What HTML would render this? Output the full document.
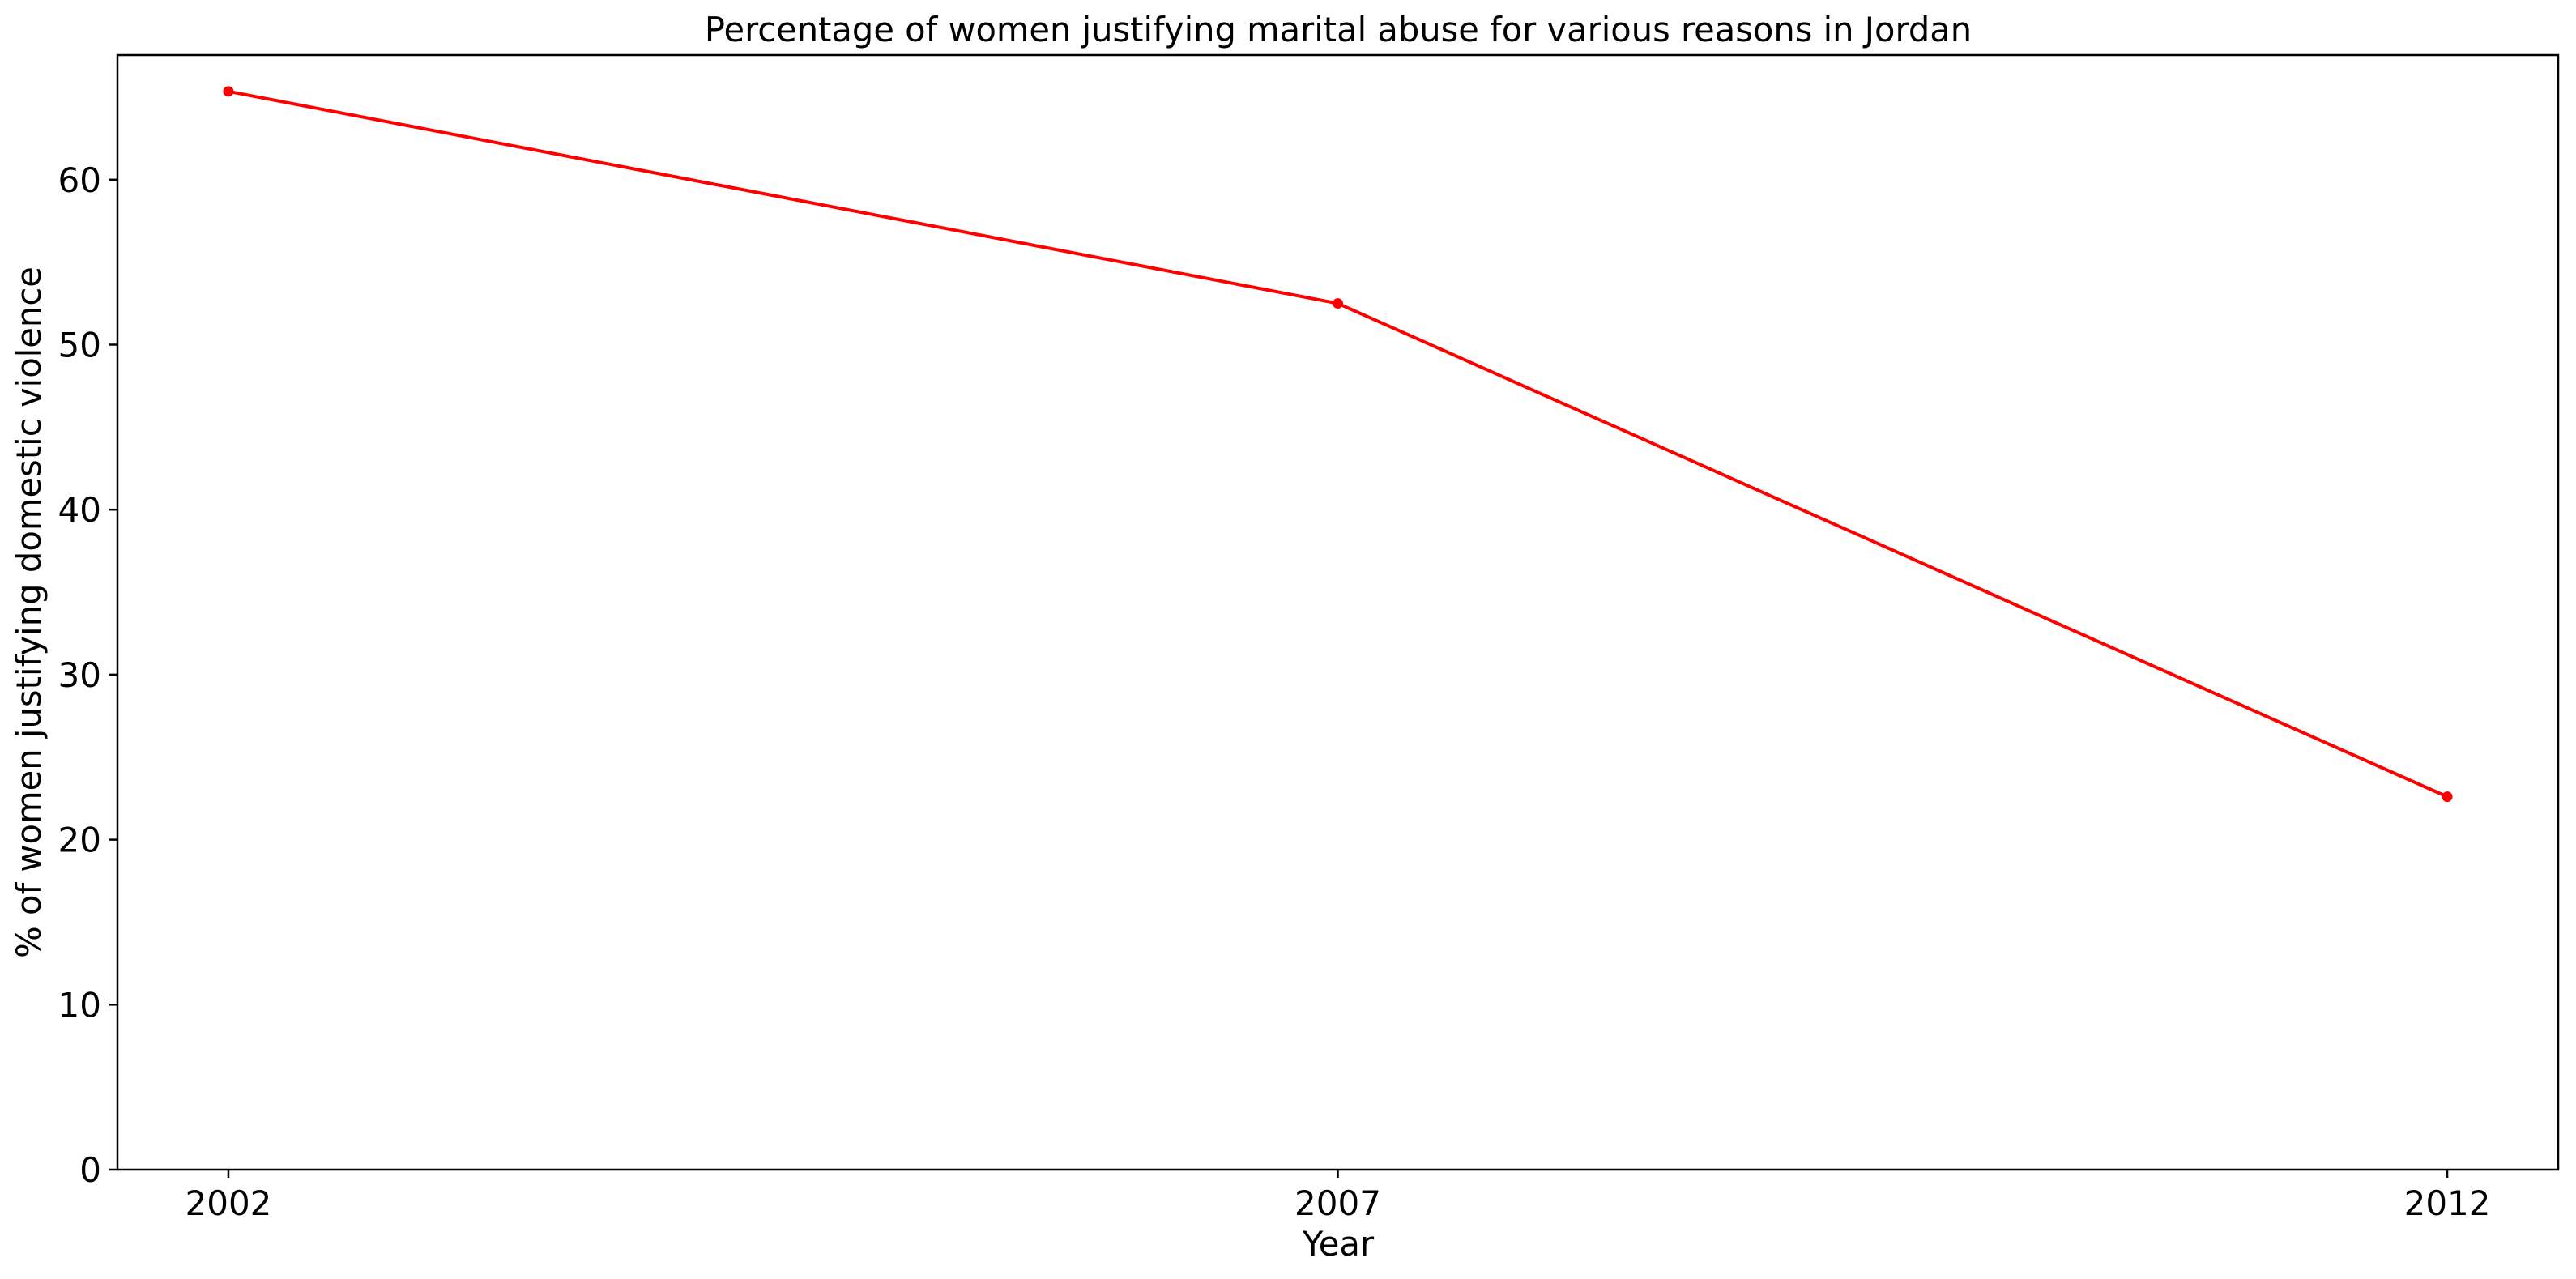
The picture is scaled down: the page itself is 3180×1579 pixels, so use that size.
<!DOCTYPE html>
<html><head><meta charset="utf-8"><style>
html,body{margin:0;padding:0;background:#fff;}
svg{display:block;font-family:"DejaVu Sans","Liberation Sans",sans-serif;}
</style></head><body>
<svg id="chart" width="3180" height="1579" viewBox="0 0 3180 1579">
<rect width="3180" height="1579" fill="#fff"/>
<text x="1652" y="51" font-size="41.6" text-anchor="middle">Percentage of women justifying marital abuse for various reasons in Jordan</text>
<g id="axes"></g>
<g id="series"></g>
<rect x="145" y="68" width="3013" height="1376" fill="none" stroke="#000" stroke-width="2.5"/>
<text x="1652" y="1550" font-size="41.7" text-anchor="middle">Year</text>
<text transform="translate(50,756) rotate(-90)" font-size="41.7" text-anchor="middle">% of women justifying domestic violence</text>
</svg>
<script>
const years = [2002, 2007, 2012];
const values = [65.35, 52.5, 22.6];
const yTicks = [0, 10, 20, 30, 40, 50, 60];
const xTickLabels = ["2002", "2007", "2012"];

const L = 145, R = 3158, T = 68, B = 1444;
const xMin = 2001.5, xMax = 2012.5, yMin = 0, yMax = 67.55;
const sx = v => L + (v - xMin) / (xMax - xMin) * (R - L);
const sy = v => B - (v - yMin) / (yMax - yMin) * (B - T);
const NS = "http://www.w3.org/2000/svg";
const axes = document.getElementById("axes");
const series = document.getElementById("series");
function mk(tag, attrs, parent) {
  const e = document.createElementNS(NS, tag);
  for (const k in attrs) e.setAttribute(k, attrs[k]);
  parent.appendChild(e);
  return e;
}
yTicks.forEach(t => {
  const y = sy(t);
  const tk = mk("line", {x1: L - 10, x2: L, y1: y, y2: y, stroke: "#000", "stroke-width": 2.5}, axes);
  
  
  const tx = mk("text", {x: L - 20, y: y + 15, "font-size": 42, "text-anchor": "end"}, axes);
  tx.textContent = t;
  
  
});
years.forEach((yr, i) => {
  const x = sx(yr);
  const tk = mk("line", {x1: x, x2: x, y1: B, y2: B + 10, stroke: "#000", "stroke-width": 2.5}, axes);
  
  
  const tx = mk("text", {x: x, y: B + 56, "font-size": 42, "text-anchor": "middle"}, axes);
  tx.textContent = xTickLabels[i];
  
  
});
const pts = years.map((yr, i) => sx(yr) + "," + sy(values[i])).join(" ");
const line = mk("polyline", {points: pts, fill: "none", stroke: "#ff0000", "stroke-width": 4, "stroke-linejoin": "round"}, series);


years.forEach((yr, i) => {
  const c = mk("circle", {cx: sx(yr), cy: sy(values[i]), r: 6.5, fill: "#ff0000"}, series);
  
  
});
</script>
</body></html>
